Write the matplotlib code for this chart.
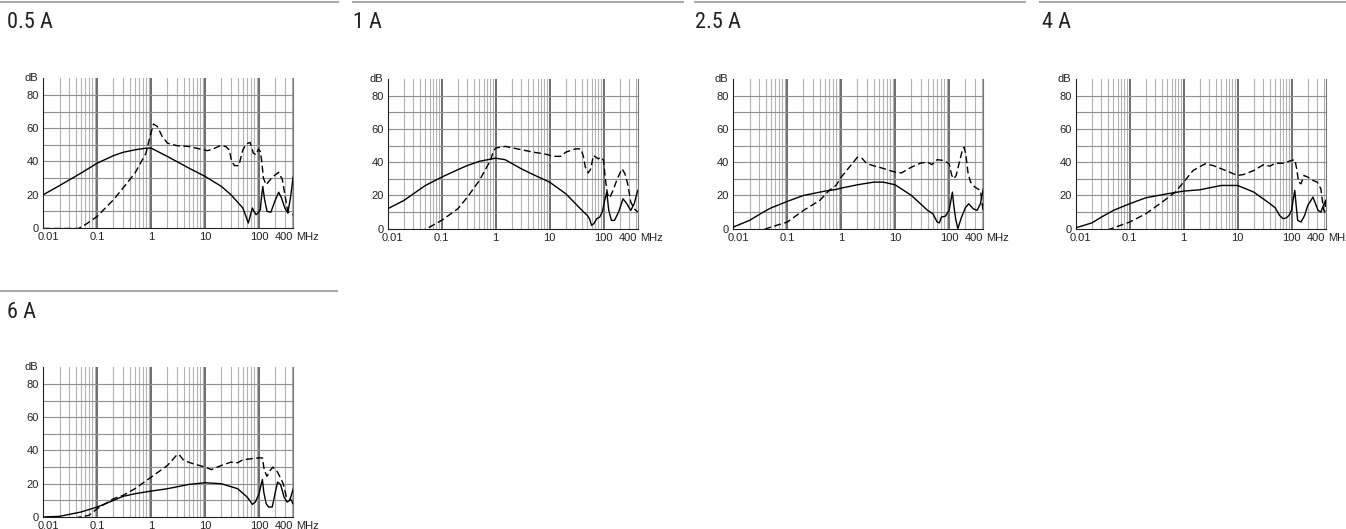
import matplotlib
matplotlib.use("Agg")
import matplotlib.pyplot as plt
from matplotlib.lines import Line2D
from matplotlib import font_manager
import matplotlib.transforms as mtransforms

# --- data (frequency in MHz, attenuation in dB) ---
titles = ["0.5 A", "1 A", "2.5 A", "4 A", "6 A"]
x_ticks = [0.01, 0.1, 1, 10, 100, 400]
x_ticklabels = ["0.01", "0.1", "1", "10", "100", "400"]
y_ticks = [0, 20, 40, 60, 80]

f_05_sym = [0.01, 0.02, 0.05, 0.1, 0.2, 0.3, 0.5, 0.8, 1.0, 2, 5, 10, 20, 30, 40, 50, 57, 63, 68, 75,
            80, 88, 95, 105, 112, 117, 125, 140, 165, 195, 230, 260, 300, 340, 380, 430]
db_05_sym = [20, 25.5, 33, 39, 43.5, 45.5, 47, 48, 48, 43, 36, 31, 25, 20, 15.5, 12, 7, 3, 7, 12,
             10, 8, 9, 11, 20, 25, 18, 10, 9.5, 16, 21.5, 18, 12, 9, 18, 31]
f_05_asym = [0.01, 0.03, 0.045, 0.06, 0.1, 0.2, 0.3, 0.5, 0.8, 0.95, 1.1, 1.3, 1.6, 2, 3, 5, 8, 11,
             14, 19, 24, 28, 31, 35, 42, 50, 58, 68, 78, 88, 97, 105, 112, 120, 135, 165, 200, 230,
             270, 300, 340, 380, 430]
db_05_asym = [-0.3, -0.3, -0.3, 2, 7, 17, 24, 33, 45, 55, 62.5, 61, 55, 51, 49.5, 49, 47.5, 46.5,
              47.5, 49.5, 49, 47, 40, 37.5, 37.5, 47, 50.5, 51.5, 45, 44, 47.5, 46, 40, 30, 26,
              29.5, 32, 33.5, 29, 20, 10, 8.5, 8]

f_1_sym = [0.01, 0.02, 0.05, 0.1, 0.2, 0.3, 0.5, 1.0, 1.5, 3, 5, 10, 20, 40, 50, 55, 60, 66, 75,
           85, 95, 105, 115, 125, 140, 160, 190, 230, 270, 320, 370, 430]
db_1_sym = [12, 17, 26, 31, 35.5, 38, 40.5, 42.4, 41.5, 36, 32.5, 28, 21, 11, 8, 6, 2, 3, 6,
            7, 10, 17, 22, 11, 5, 5, 10, 18, 15, 11, 15, 23]
f_1_asym = [0.01, 0.045, 0.06, 0.1, 0.2, 0.3, 0.5, 0.8, 0.9, 1.0, 1.5, 3, 5, 8, 12, 16, 20, 30,
            38, 42, 46, 52, 58, 65, 72, 80, 90, 100, 108, 118, 130, 150, 180, 220, 250, 280, 320,
            370, 430]
db_1_asym = [-1, -1, 1, 5, 12, 19, 29, 41, 46, 48.5, 49.5, 47.5, 46, 45, 43.5, 43.5, 46, 48,
             48, 44, 37, 33.5, 36, 44, 43, 42, 43, 41, 30, 21, 18.5, 23, 30, 36, 33, 27, 16,
             12, 10]

f_25_sym = [0.01, 0.02, 0.036, 0.05, 0.1, 0.2, 0.5, 0.8, 1, 2, 4, 6, 10, 20, 40, 50, 60, 66, 72,
            85, 100, 108, 115, 122, 132, 145, 170, 200, 230, 280, 330, 380, 430]
db_25_sym = [1, 5, 10, 12.5, 16.4, 20, 22.6, 23.6, 24.4, 26.4, 28, 28, 26.4, 20, 11, 9, 4, 3.5, 7,
             7.5, 11, 17, 22, 14, 6, 0, 7, 12.5, 15, 12, 11, 15, 24]
f_25_asym = [0.01, 0.034, 0.05, 0.1, 0.2, 0.4, 0.6, 0.8, 1, 1.5, 2, 2.4, 3, 5, 10, 13, 20, 30, 40,
             48, 60, 80, 100, 112, 122, 135, 155, 175, 190, 205, 225, 250, 300, 380, 430]
db_25_asym = [-1, -1, 1, 4, 11, 17, 23, 26, 31, 38, 43, 42.5, 39, 37, 34, 33.5, 37, 39.5, 40,
              38.5, 41.5, 41, 39, 32, 30, 32, 40, 47, 49, 44, 33, 28, 25, 23, 10]

f_4_sym = [0.01, 0.02, 0.03, 0.05, 0.1, 0.2, 0.5, 1, 2, 5, 10, 20, 40, 50, 60, 70, 80, 90, 100,
           108, 115, 122, 130, 150, 175, 200, 250, 310, 350, 390, 430]
db_4_sym = [0.5, 3.5, 7, 11, 15, 18.6, 21, 22.6, 23.4, 26, 26, 22, 15, 12.5, 8, 6, 6.5, 8, 11,
            18, 23, 14, 5, 4, 8, 14, 19, 11, 10, 14, 17]
f_4_asym = [0.01, 0.037, 0.05, 0.1, 0.2, 0.4, 0.7, 1, 1.5, 2.5, 3.5, 6, 10, 13, 20, 30, 40, 50, 70,
            100, 115, 125, 135, 150, 170, 200, 250, 300, 350, 390, 410, 430]
db_4_asym = [-1, -1, 0.5, 4, 9, 16, 22, 28, 35, 39, 38, 35, 32, 32.6, 35, 38.4, 37.6, 39.4, 39.4,
             41, 41.5, 36, 28, 27, 32, 31, 29, 28, 24, 12, 10, 16]

f_6_sym = [0.01, 0.02, 0.05, 0.1, 0.2, 0.3, 0.5, 1, 2, 5, 10, 20, 40, 60, 75, 85, 100, 108, 115,
           122, 135, 150, 175, 200, 220, 250, 290, 330, 370, 430]
db_6_sym = [0, 0.4, 3, 6, 10, 12.4, 14, 15.6, 17, 19.6, 20.6, 20, 17, 12, 7.6, 9, 14, 19, 22.5,
            15, 8, 6, 6, 15, 21, 19.5, 12, 9, 10, 17]
f_6_asym = [0.01, 0.033, 0.07, 0.1, 0.2, 0.3, 0.5, 1, 2, 3, 3.3, 4, 6, 10, 13, 20, 30, 40, 50,
            70, 100, 115, 125, 140, 160, 180, 220, 280, 320, 400, 430]
db_6_asym = [-1, -1, 1, 5, 11, 13, 17, 24, 31, 37.4, 37.5, 34, 32, 30, 28.5, 31, 33, 32.6, 34.4,
             35, 35.6, 35.5, 28, 24.5, 28, 30, 27, 20, 12, 10, 7]

solid_f = [f_05_sym, f_1_sym, f_25_sym, f_4_sym, f_6_sym]
solid_db = [db_05_sym, db_1_sym, db_25_sym, db_4_sym, db_6_sym]
dash_f = [f_05_asym, f_1_asym, f_25_asym, f_4_asym, f_6_asym]
dash_db = [db_05_asym, db_1_asym, db_25_asym, db_4_asym, db_6_asym]

# --- layout (pixels of the 1346x529 picture) ---
W, H = 1346, 529
axes_px = [(43.3, 78.3), (387.7, 79), (733.3, 79), (1075.7, 79), (43.3, 367.3)]
ax_w, ax_h = 250, 149.7
title_px = [(7, 28), (353, 28), (695, 28), (1042, 28), (7, 318)]
rules_px = [(0, 338, 2), (353, 683, 2), (695, 1025, 2), (1040, 1346, 2), (0, 337, 291)]

names = {f.name for f in font_manager.fontManager.ttflist}
title_font = "Roboto"
for cand in ["Liberation Sans Narrow", "Roboto Condensed", "Open Sans Condensed"]:
    if cand in names:
        title_font = cand
        break
plt.rcParams["font.family"] = ["Liberation Sans", "DejaVu Sans"]

fig = plt.figure(figsize=(W / 100, H / 100), dpi=100)

for x0, x1, y in rules_px:
    fig.add_artist(Line2D([x0 / W, x1 / W], [1 - y / H, 1 - y / H], color="#aaaaaa", lw=1.5))

for (tx, ty), t in zip(title_px, titles):
    fig.text(tx / W, 1 - ty / H, t, fontsize=16, family=title_font, color="#222222",
             va="baseline", ha="left")

for i in range(5):
    left, top = axes_px[i]
    ax = fig.add_axes([left / W, 1 - (top + ax_h) / H, ax_w / W, ax_h / H])
    ax.set_xscale("log")
    ax.set_xlim(0.01, 430)
    ax.set_ylim(0, 90)

    # grid drawn by hand: decades dark, 2..9 light
    for d in range(-2, 3):
        for k in range(1, 10):
            f = k * 10.0 ** d
            if f >= 430:
                continue
            if k == 1:
                ax.axvline(f, color="#555555", lw=1.2, zorder=1)
            else:
                ax.axvline(f, color="#b3b3b3", lw=0.8, zorder=1)
    for v in range(10, 90, 10):
        ax.axhline(v, color="#8f8f8f", lw=0.8, zorder=1)

    ax.plot(solid_f[i], solid_db[i], color="black", lw=1.0, zorder=3)
    ax.plot(dash_f[i], dash_db[i], color="black", lw=1.0, ls=(0, (5, 2.5)), zorder=3)

    ax.spines["top"].set_visible(False)
    ax.spines["right"].set_color("#777777")
    ax.spines["right"].set_linewidth(0.8)
    ax.spines["left"].set_color("#222222")
    ax.spines["bottom"].set_color("#222222")

    ax.set_xticks(x_ticks)
    ax.set_xticklabels(x_ticklabels)
    ax.set_xticks([], minor=True)
    ax.set_yticks(y_ticks)
    ax.tick_params(length=0, labelsize=8, labelcolor="#222222", pad=3)

    xl = ax.get_xticklabels()
    xl[0].set_transform(xl[0].get_transform() +
                        mtransforms.ScaledTranslation(5 / 100, 0, fig.dpi_scale_trans))
    xl[-1].set_ha("right")
    xl[-1].set_transform(xl[-1].get_transform() +
                         mtransforms.ScaledTranslation(1.5 / 100, 0, fig.dpi_scale_trans))

    off = mtransforms.offset_copy(ax.transAxes, fig=fig, x=-3.5, y=0, units="points")
    ax.text(0, 1, "dB", transform=off, ha="right", va="center", fontsize=8, color="#222222")
    off2 = mtransforms.offset_copy(ax.transAxes, fig=fig, x=2, y=-3, units="points")
    ax.text(1, 0, "MHz", transform=off2, ha="left", va="top", fontsize=8, color="#222222")

fig.savefig("out.png", dpi=100)
